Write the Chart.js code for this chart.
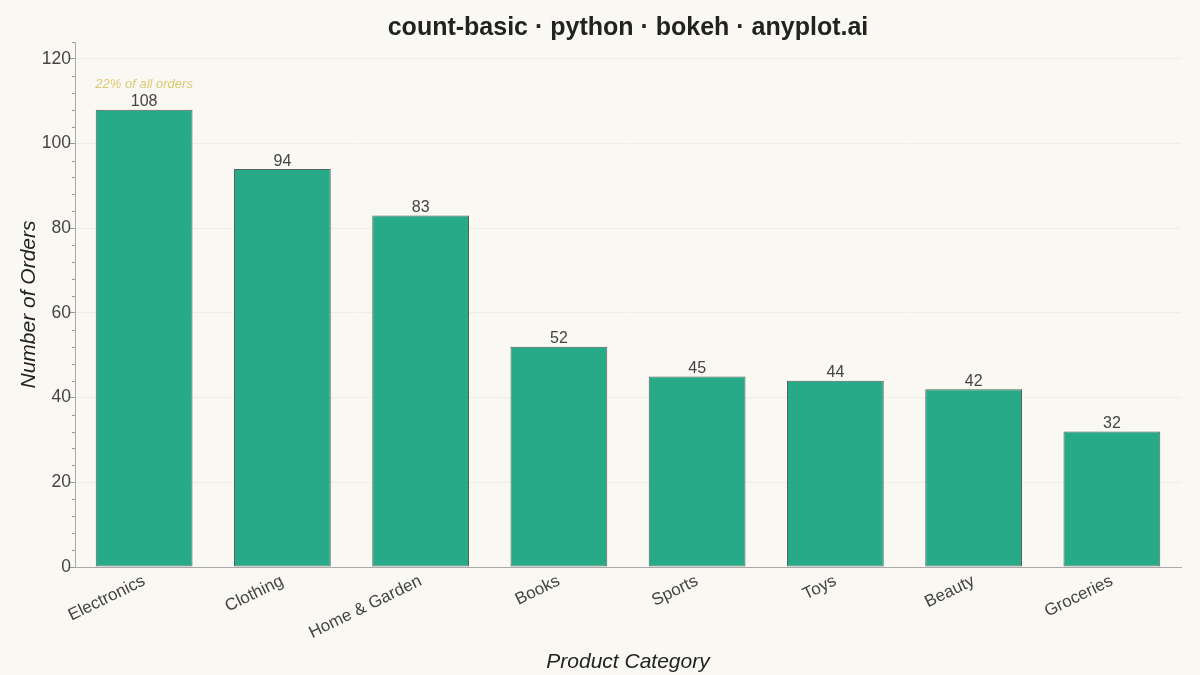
<!DOCTYPE html>
<html>
<head>
<meta charset="utf-8">
<script src="https://cdn.jsdelivr.net/npm/chart.js@4.4.1/dist/chart.umd.min.js"></script>
<style>
  html, body { margin: 0; padding: 0; background: #FAF8F2; }
  #wrap { width: 1200px; height: 675px; }
</style>
</head>
<body>
<div id="wrap"><canvas id="chart1"></canvas></div>
<script>
const categories = ['Electronics', 'Clothing', 'Home & Garden', 'Books', 'Sports', 'Toys', 'Beauty', 'Groceries'];
const orders = [108, 94, 83, 52, 45, 44, 42, 32];
const yTicks = [0, 20, 40, 60, 80, 100, 120];

const total = orders.reduce((a, b) => a + b, 0);
const FONT = '"Liberation Sans", Arial, Helvetica, sans-serif';
const TITLE = 'count-basic · python · bokeh · anyplot.ai';

// title centred over the plot area, like bokeh does it
const plotTitle = {
  id: 'plotTitle',
  afterDraw(chart) {
    const ctx = chart.ctx;
    const area = chart.chartArea;
    ctx.save();
    ctx.font = 'bold 25px ' + FONT;
    ctx.fillStyle = '#222222';
    ctx.textAlign = 'center';
    ctx.textBaseline = 'alphabetic';
    ctx.fillText(TITLE, (area.left + area.right) / 2, 35);
    ctx.restore();
  }
};

// value labels + share note over the top bar
const barLabels = {
  id: 'barLabels',
  afterDatasetsDraw(chart) {
    const ctx = chart.ctx;
    const meta = chart.getDatasetMeta(0);
    ctx.save();
    ctx.textAlign = 'center';
    ctx.textBaseline = 'alphabetic';
    meta.data.forEach((bar, i) => {
      ctx.font = '16px ' + FONT;
      ctx.fillStyle = '#444444';
      ctx.fillText(String(orders[i]), bar.x, bar.y - 3.5);
    });
    const top = meta.data[0];
    ctx.font = 'italic 13px ' + FONT;
    ctx.fillStyle = '#DCC873';
    ctx.fillText(Math.round(orders[0] / total * 100) + '% of all orders', top.x, top.y - 22);
    ctx.restore();
  }
};

// minor ticks on y axis
const minorTicks = {
  id: 'minorTicks',
  afterDraw(chart) {
    const y = chart.scales.y;
    const ctx = chart.ctx;
    ctx.save();
    ctx.strokeStyle = '#999999';
    ctx.lineWidth = 1;
    for (let v = 0; v <= y.max; v += 4) {
      if (v % 20 === 0) continue;
      const py = Math.round(y.getPixelForValue(v)) + 0.5;
      ctx.beginPath();
      ctx.moveTo(y.right - 3, py);
      ctx.lineTo(y.right, py);
      ctx.stroke();
    }
    ctx.restore();
  }
};

const config = {
  type: 'bar',
  data: {
    labels: categories,
    datasets: [{
      data: orders,
      backgroundColor: '#27AA88',
      borderColor: '#55625D',
      borderWidth: 1,
      borderSkipped: false,
      categoryPercentage: 0.7,
      barPercentage: 1.0,
    }],
  },
  options: {
    responsive: true,
    maintainAspectRatio: false,
    animation: false,
    layout: { padding: { left: 0, right: 19, top: 42, bottom: 0 } },
    plugins: {
      legend: { display: false },
      tooltip: { enabled: false },
      title: { display: false },
    },
    scales: {
      x: {
        grid: { display: false, drawTicks: true, tickLength: 4, tickColor: '#999999' },
        border: { color: '#AAAAAA' },
        ticks: {
          color: '#444444',
          font: { family: FONT, size: 17 },
          minRotation: 26,
          maxRotation: 26,
          padding: 0,
        },
        title: {
          display: true,
          text: 'Product Category',
          color: '#222222',
          font: { family: FONT, size: 21, style: 'italic' },
          padding: 0,
        },
        afterFit(scale) { scale.height = 108; },
      },
      y: {
        min: 0,
        max: 124,
        afterBuildTicks(scale) {
          scale.ticks = yTicks.map(v => ({ value: v }));
        },
        grid: { color: 'rgba(0,0,0,0.045)', tickLength: 5, tickColor: '#999999' },
        border: { color: '#AAAAAA' },
        ticks: {
          color: '#444444',
          font: { family: FONT, size: 17.5 },
          padding: -1,
        },
        title: {
          display: true,
          text: 'Number of Orders',
          color: '#222222',
          font: { family: FONT, size: 21, style: 'italic' },
          padding: { top: 17, bottom: 0 },
        },
        afterFit(scale) { scale.width = 75; },
      },
    },
  },
  plugins: [barLabels, minorTicks, plotTitle],
};

var myChart = new Chart(document.getElementById('chart1'), config);
</script>
</body>
</html>
